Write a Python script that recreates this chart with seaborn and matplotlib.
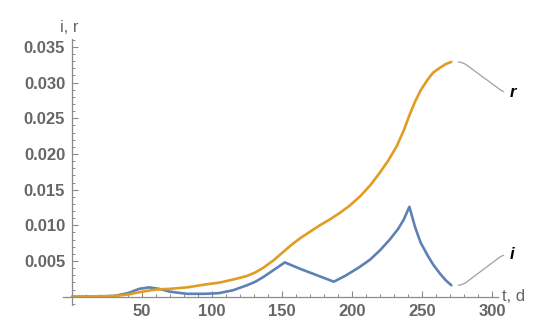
import numpy as np
import pandas as pd
import matplotlib
matplotlib.use("Agg")
import matplotlib.pyplot as plt
from matplotlib.ticker import MultipleLocator, FixedLocator
import seaborn as sns

# r(t): recovered fraction
t_r = [0, 20, 30, 40, 50, 60, 70, 82, 95, 106, 115, 125, 131, 137, 144, 151, 157,
       163, 170, 177, 184, 191, 198, 206, 213, 220, 226, 232, 237, 241, 245, 249,
       254, 258, 263, 267, 271]
r_vals = [0, 0.00005, 0.0001, 0.0003, 0.0007, 0.0010, 0.0011, 0.0013, 0.0017, 0.0020,
          0.0024, 0.0029, 0.0034, 0.0041, 0.0051, 0.0063, 0.0073, 0.0082, 0.0091,
          0.0100, 0.0108, 0.0117, 0.0127, 0.0141, 0.0156, 0.0174, 0.0191, 0.0211,
          0.0233, 0.0254, 0.0273, 0.0289, 0.0304, 0.0314, 0.0321, 0.0326, 0.0329]

# i(t): infected fraction
t_i = [0, 20, 30, 40, 48, 55, 62, 70, 82, 95, 105, 115, 125, 131, 137, 146, 152,
       163, 175, 187, 195, 205, 213, 220, 227, 233, 237, 241, 245, 249, 254, 258,
       263, 267, 271]
i_vals = [0, 0.00003, 0.0001, 0.0005, 0.0011, 0.0013, 0.0011, 0.0007, 0.0004, 0.0004,
          0.0005, 0.0009, 0.0016, 0.0021, 0.0028, 0.0040, 0.0048, 0.0039, 0.0030,
          0.0021, 0.0029, 0.0041, 0.0052, 0.0065, 0.0080, 0.0095, 0.0108, 0.0126,
          0.0098, 0.0076, 0.0058, 0.0045, 0.0032, 0.0023, 0.0016]

x_ticks = [50, 100, 150, 200, 250, 300]
y_ticks = [0.005, 0.010, 0.015, 0.020, 0.025, 0.030, 0.035]

blue = "#5E81B5"
orange = "#E19C24"
gray = "#666666"

sns.set_style("white")
plt.rcParams["font.family"] = ["Liberation Sans", "DejaVu Sans"]

df_r = pd.DataFrame({"t": t_r, "v": r_vals})
df_i = pd.DataFrame({"t": t_i, "v": i_vals})

fig = plt.figure(figsize=(5.49, 3.23), dpi=100)
ax = fig.add_axes([0.115, 0.055, 0.792, 0.824])

sns.lineplot(data=df_i, x="t", y="v", color=blue, lw=1.9, ax=ax)
sns.lineplot(data=df_r, x="t", y="v", color=orange, lw=1.9, ax=ax)

ax.set_xlim(-6.4, 304.3)
ax.set_ylim(-0.0012, 0.0361)

for side in ["top", "right"]:
    ax.spines[side].set_visible(False)
ax.spines["left"].set_position(("data", 0))
ax.spines["bottom"].set_position(("data", 0))
for side in ["left", "bottom"]:
    ax.spines[side].set_color("#8a8a8a")
    ax.spines[side].set_linewidth(0.9)

ax.xaxis.set_major_locator(FixedLocator(x_ticks))
ax.xaxis.set_minor_locator(MultipleLocator(10))
ax.yaxis.set_major_locator(FixedLocator(y_ticks))
ax.yaxis.set_minor_locator(MultipleLocator(0.001))
ax.set_xticklabels([str(v) for v in x_ticks])
ax.set_yticklabels([f"{v:.3f}" for v in y_ticks])

ax.tick_params(which="major", direction="in", length=4, width=0.8, color="#8a8a8a",
               labelsize=12, labelcolor=gray, pad=5)
ax.tick_params(which="minor", direction="in", length=2.2, width=0.7, color="#8a8a8a")
ax.tick_params(axis="x", which="both", bottom=True)
ax.tick_params(axis="y", which="both", left=True)
for lab in ax.get_xticklabels() + ax.get_yticklabels():
    lab.set_fontweight("bold")

ax.set_xlabel("")
ax.set_ylabel("")

ax.annotate("t, d", xy=(1, 0), xycoords=("axes fraction", "data"),
            xytext=(3, 0), textcoords="offset points", ha="left", va="center",
            fontsize=12, color=gray)
ax.annotate("i, r", xy=(0, 1), xycoords=("data", "axes fraction"),
            xytext=(-2, 3), textcoords="offset points", ha="center", va="bottom",
            fontsize=12, color=gray)

# callout labels at the end of each curve
for name, tt, vv, dy in [("r", t_r, r_vals, -22), ("i", t_i, i_vals, 22)]:
    ax.annotate(name, xy=(tt[-1], vv[-1]), xytext=(42, dy), textcoords="offset points",
                ha="left", va="center", fontsize=12, fontweight="bold", style="italic",
                color="black",
                arrowprops=dict(arrowstyle="-", color="#a0a0a0", lw=0.9,
                                shrinkA=2, shrinkB=5,
                                connectionstyle="arc,angleA=180,angleB=0,armA=9,armB=11,rad=5"))

fig.savefig("out.png", dpi=100)
